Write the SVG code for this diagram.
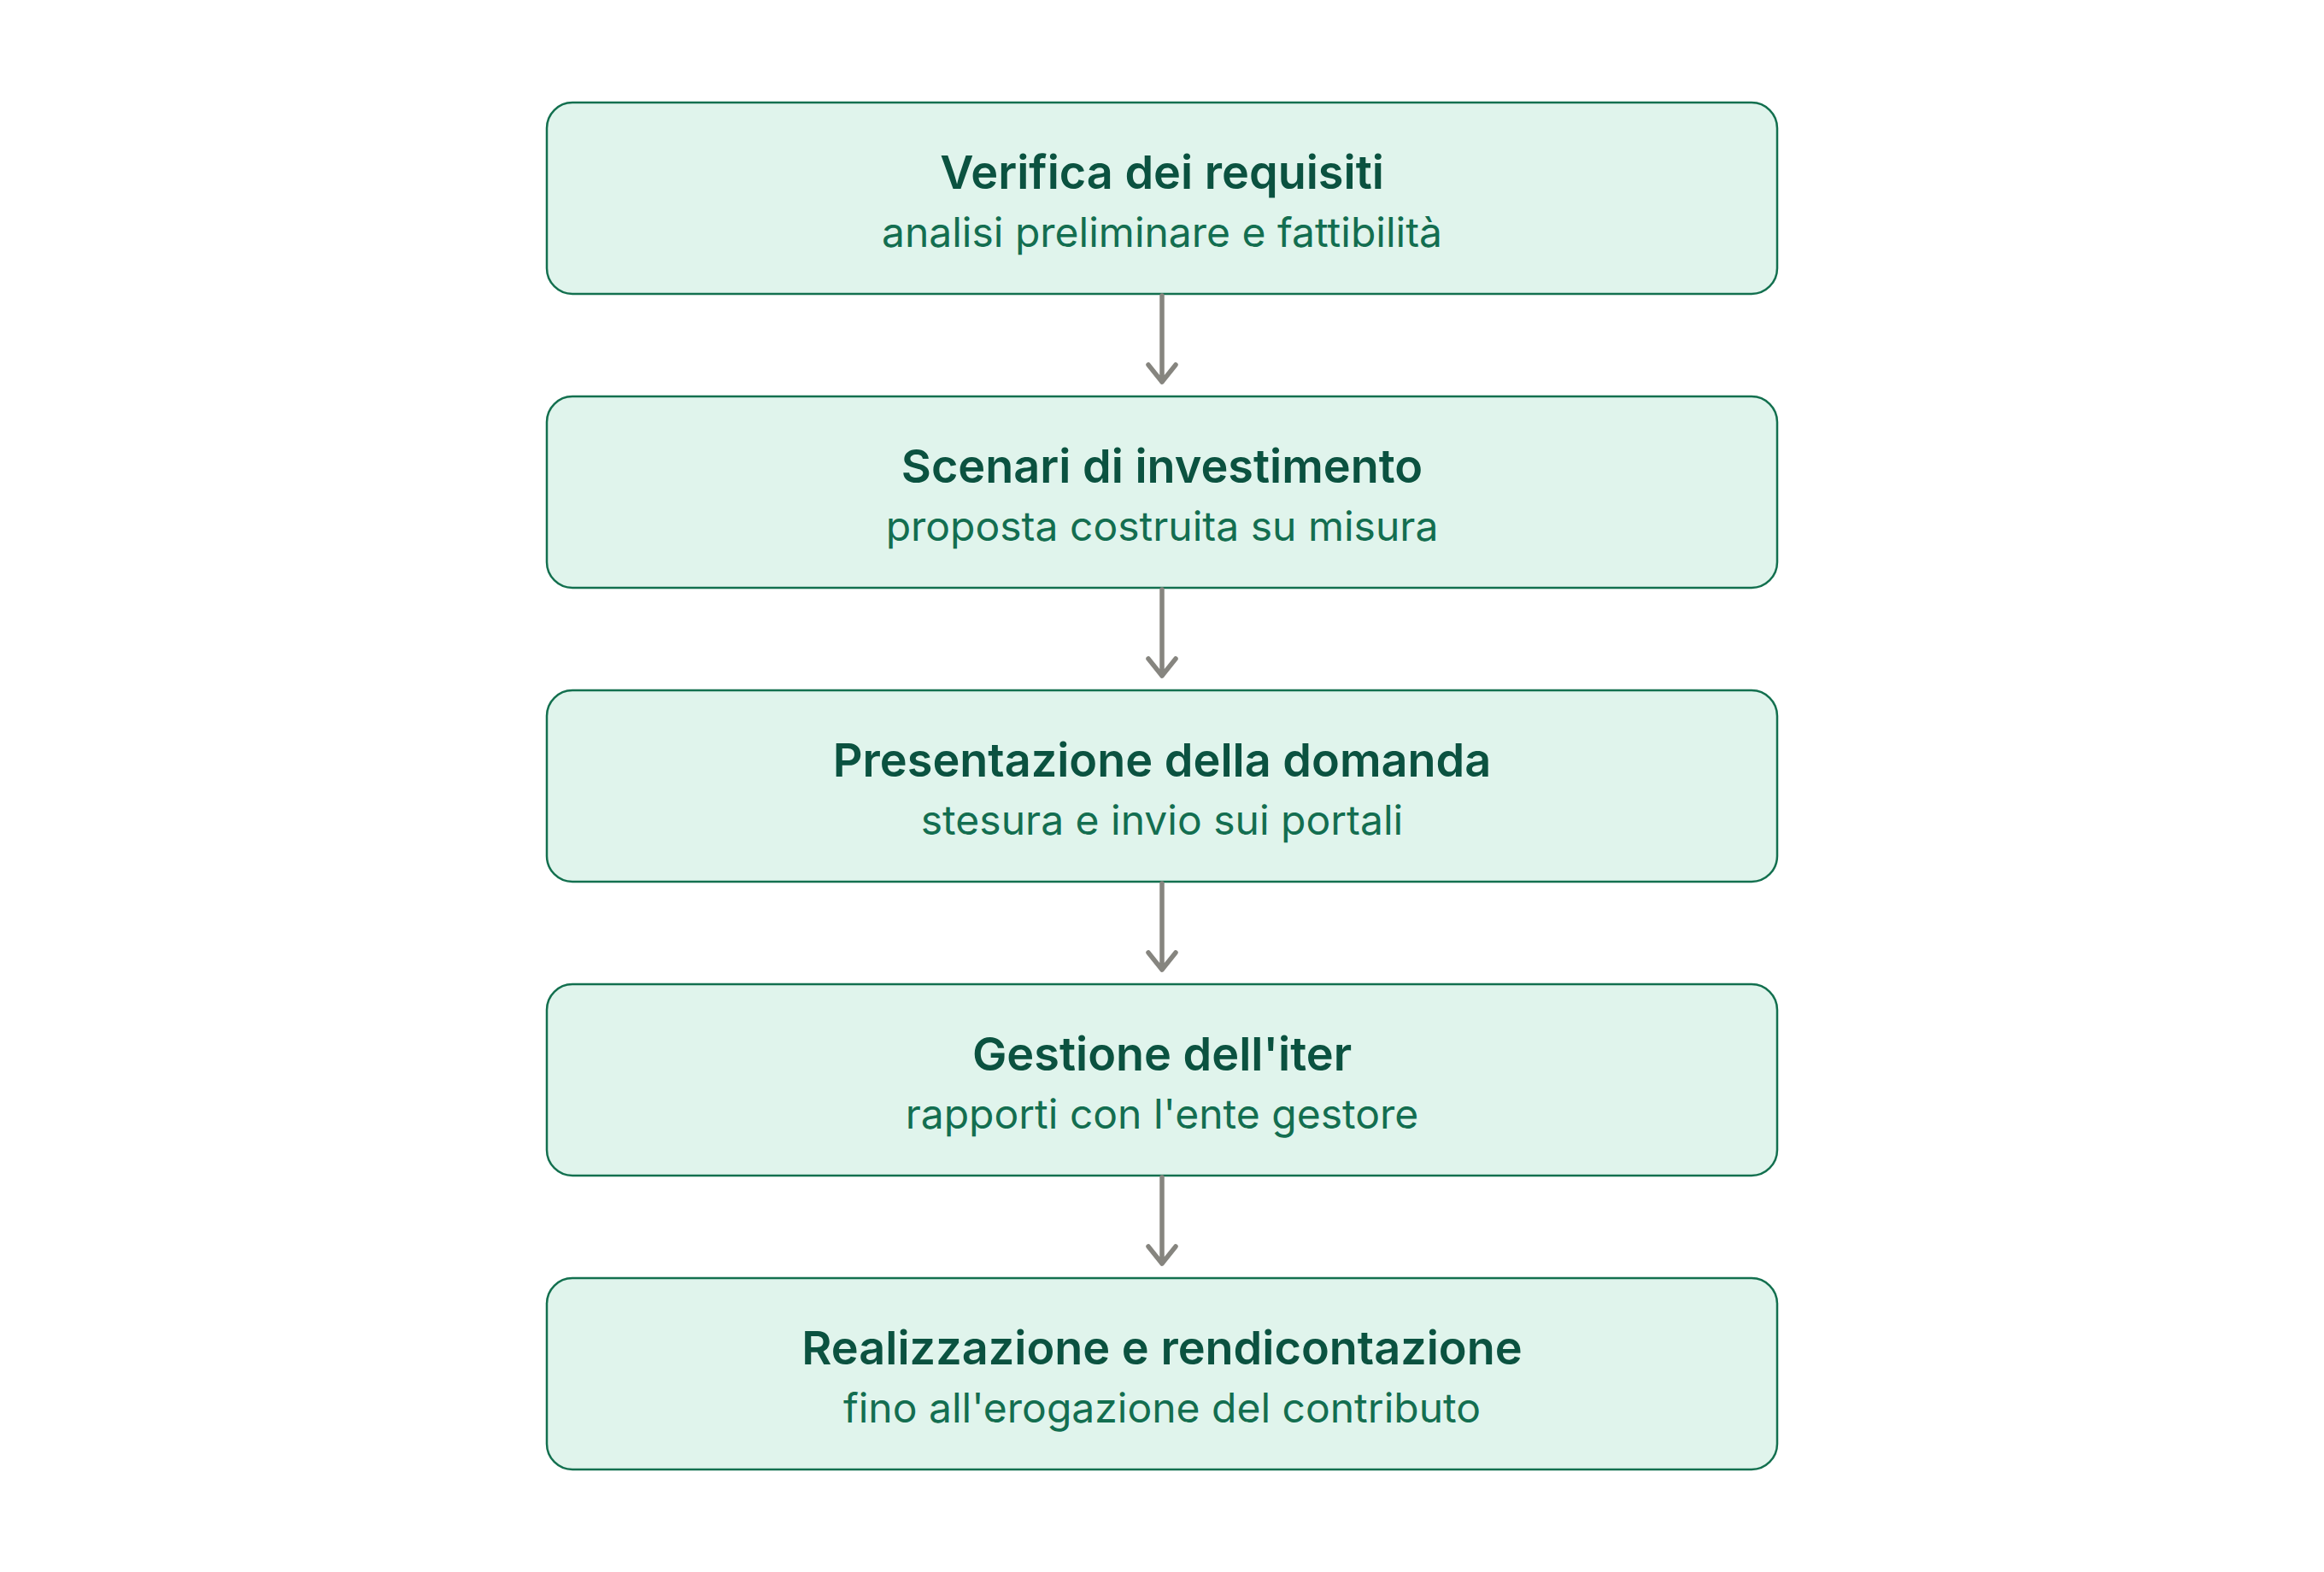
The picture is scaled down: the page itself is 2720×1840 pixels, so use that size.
<svg xmlns="http://www.w3.org/2000/svg" width="2720" height="1840" viewBox="0 0 2720 1840">
<style>
.box{fill:#e0f4ec;stroke:#13704f;stroke-width:2.5}
.t{font-family:Inter,Roboto,"Liberation Sans",sans-serif;font-size:54px;font-weight:600;fill:#0b5240;text-anchor:middle}
.s{font-family:Inter,Roboto,"Liberation Sans",sans-serif;font-size:48px;font-weight:400;fill:#136e50;text-anchor:middle}
.c{stroke:#86857f;stroke-width:5.5;fill:none;stroke-linecap:round;stroke-linejoin:round}
</style>
<rect width="2720" height="1840" fill="#ffffff"/>
<g id="n1"><rect class="box" x="640" y="120" width="1440" height="224" rx="30"/><text class="t" x="1360" y="221">Verifica dei requisiti</text><text class="s" x="1360" y="289">analisi preliminare e fattibilità</text></g>
<g id="n2"><rect class="box" x="640" y="464" width="1440" height="224" rx="30"/><text class="t" x="1360" y="565">Scenari di investimento</text><text class="s" x="1360" y="633">proposta costruita su misura</text></g>
<g id="n3"><rect class="box" x="640" y="808" width="1440" height="224" rx="30"/><text class="t" x="1360" y="909">Presentazione della domanda</text><text class="s" x="1360" y="977">stesura e invio sui portali</text></g>
<g id="n4"><rect class="box" x="640" y="1152" width="1440" height="224" rx="30"/><text class="t" x="1360" y="1253">Gestione dell'iter</text><text class="s" x="1360" y="1321">rapporti con l'ente gestore</text></g>
<g id="n5"><rect class="box" x="640" y="1496" width="1440" height="224" rx="30"/><text class="t" x="1360" y="1597">Realizzazione e rendicontazione</text><text class="s" x="1360" y="1665">fino all'erogazione del contributo</text></g>
<g id="connectors">
<path class="c" d="M1360 346V447M1344 427L1360 447L1376 427"/>
<path class="c" d="M1360 690V791M1344 771L1360 791L1376 771"/>
<path class="c" d="M1360 1034V1135M1344 1115L1360 1135L1376 1115"/>
<path class="c" d="M1360 1378V1479M1344 1459L1360 1479L1376 1459"/>
</g>
</svg>
